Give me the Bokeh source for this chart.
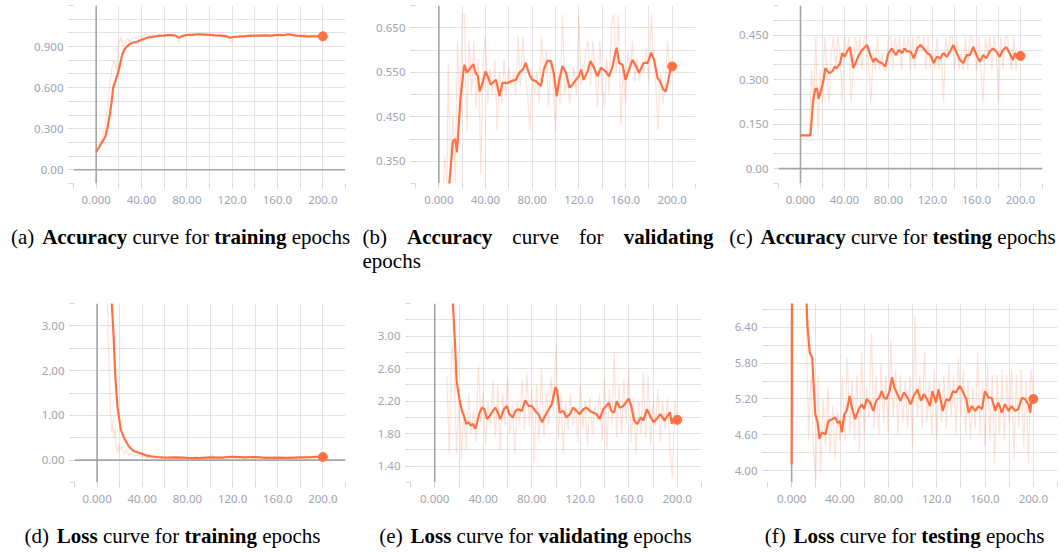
from bokeh.plotting import figure
from bokeh.models import FixedTicker, Span, Range1d
from bokeh.layouts import column, row
from bokeh.embed import file_html
from bokeh.resources import INLINE
from bokeh.core.properties import value

# ---------------- data ----------------
X_TICKS = [0, 40, 80, 120, 160, 200]
X_TICK_LABELS = ["0.000", "40.00", "80.00", "120.0", "160.0", "200.0"]
X_MINOR = [-20, 20, 60, 100, 140, 180, 220]

# (a) training accuracy
train_acc_x = [0, 3, 5, 8, 10, 12, 14, 15, 17, 19, 21, 23, 25, 27, 30, 33, 36, 40, 45, 50,
               55, 60, 65, 70, 73, 76, 80, 85, 90, 95, 100, 105, 110, 115, 118, 121, 125, 130, 135, 140,
               145, 150, 155, 160, 165, 170, 173, 176, 180, 185, 190, 195, 200]
train_acc_smooth = [0.13, 0.17, 0.20, 0.24, 0.31, 0.40, 0.52, 0.60, 0.65, 0.70, 0.77, 0.84, 0.88, 0.90, 0.92, 0.93, 0.935, 0.95, 0.965, 0.972,
                    0.978, 0.98, 0.985, 0.98, 0.965, 0.975, 0.985, 0.985, 0.99, 0.988, 0.985, 0.982, 0.98, 0.975, 0.965, 0.97, 0.972, 0.975, 0.978, 0.98,
                    0.98, 0.982, 0.98, 0.985, 0.983, 0.99, 0.985, 0.98, 0.978, 0.975, 0.975, 0.975, 0.975]
train_acc_raw_x = [0, 2, 4, 6, 8, 10, 12, 14, 16, 18, 20, 22, 24, 26, 28, 30, 32, 35, 38, 41,
                   44, 47, 50, 53, 56, 59, 62, 65, 68, 71, 73, 75, 78, 81, 84, 87, 90, 93, 96, 99,
                   102, 105, 108, 111, 114, 117, 119, 121, 124, 127, 130, 133, 136, 139, 142, 145, 148, 151, 154, 157,
                   160, 163, 166, 169, 172, 175, 178, 181, 184, 187, 190, 193, 196, 198, 200]
train_acc_raw = [0.13, 0.18, 0.22, 0.25, 0.33, 0.45, 0.62, 0.75, 0.80, 0.72, 0.93, 0.97, 0.90, 0.95, 0.96, 0.93, 0.97, 0.96, 0.98, 0.97,
                 0.99, 0.98, 0.99, 0.97, 0.99, 0.98, 0.995, 0.98, 0.99, 0.97, 0.93, 0.985, 0.99, 0.98, 0.995, 0.99, 0.995, 0.985, 0.99, 0.98,
                 0.995, 0.975, 0.985, 0.98, 0.99, 0.97, 0.93, 0.98, 0.975, 0.985, 0.97, 0.98, 0.99, 0.985, 0.97, 0.99, 0.98, 0.985, 0.975, 0.99,
                 0.98, 0.99, 0.985, 0.995, 0.98, 0.99, 0.975, 0.98, 0.99, 0.97, 0.98, 0.985, 0.97, 0.98, 0.975]
a_y_ticks = [0.0, 0.3, 0.6, 0.9]
a_y_labels = ["0.00", "0.300", "0.600", "0.900"]
a_y_minor = [-0.1, 0.1, 0.2, 0.4, 0.5, 0.7, 0.8, 1.0, 1.1, 1.2]

# (b) validation accuracy
val_acc_x = [0, 4, 7, 9, 12, 14, 15.5, 17, 18.5, 21, 22, 24, 26, 29.5, 31.5, 33.5, 35, 37.5, 40, 42.5,
             44.5, 49, 52, 54.5, 59, 62, 66, 69, 72, 74.5, 77.5, 80, 83, 87.5, 90, 93, 96, 98.5, 101, 103,
             106, 109, 112, 114.5, 117.5, 120, 122, 124, 127.5, 130, 133, 136, 139, 143, 146, 149, 151.5, 152.5, 154.5, 157.5,
             160, 163, 166, 169, 171.5, 175.5, 179, 182, 184.5, 187.5, 189.5, 192.5, 194.5, 196.5, 199, 200]
val_acc_smooth = [0.10, 0.18, 0.25, 0.30, 0.395, 0.40, 0.37, 0.43, 0.49, 0.549, 0.567, 0.549, 0.556, 0.568, 0.549, 0.541, 0.507, 0.526, 0.552, 0.537,
                  0.522, 0.533, 0.496, 0.526, 0.526, 0.53, 0.533, 0.549, 0.556, 0.571, 0.545, 0.533, 0.53, 0.519, 0.556, 0.576, 0.575, 0.549, 0.496, 0.53,
                  0.564, 0.549, 0.515, 0.522, 0.533, 0.541, 0.556, 0.533, 0.552, 0.575, 0.56, 0.541, 0.56, 0.552, 0.541, 0.564, 0.597, 0.605, 0.571, 0.567,
                  0.533, 0.556, 0.578, 0.564, 0.549, 0.571, 0.571, 0.594, 0.578, 0.537, 0.53, 0.511, 0.507, 0.53, 0.564, 0.563]
val_acc_raw_x = [2, 5, 7, 8, 10, 12, 14, 16, 18, 20, 22, 24, 26, 28, 30, 32, 34, 36, 38, 40,
                 42, 44, 46, 48, 50, 52, 54, 56, 58, 60, 62, 64, 66, 68, 70, 72, 74, 76, 78, 80,
                 82, 84, 86, 88, 90, 92, 94, 96, 98, 100, 102, 104, 106, 108, 110, 112, 114, 116, 118, 120,
                 122, 124, 126, 128, 130, 132, 134, 136, 138, 140, 142, 144, 146, 148, 150, 152, 154, 156, 158, 160,
                 162, 164, 166, 168, 170, 172, 174, 176, 178, 180, 182, 184, 186, 188, 190, 192, 194, 196, 198, 200]
val_acc_raw = [0.20, 0.36, 0.30, 0.57, 0.33, 0.45, 0.30, 0.62, 0.45, 0.68, 0.68, 0.42, 0.62, 0.50, 0.62, 0.47, 0.58, 0.32, 0.58, 0.63,
               0.48, 0.56, 0.50, 0.58, 0.42, 0.55, 0.48, 0.58, 0.50, 0.56, 0.52, 0.55, 0.50, 0.63, 0.52, 0.63, 0.55, 0.50, 0.42, 0.55,
               0.50, 0.55, 0.48, 0.63, 0.55, 0.60, 0.47, 0.58, 0.52, 0.42, 0.55, 0.48, 0.68, 0.50, 0.55, 0.48, 0.52, 0.56, 0.50, 0.68,
               0.52, 0.55, 0.60, 0.62, 0.52, 0.62, 0.55, 0.47, 0.62, 0.52, 0.47, 0.58, 0.50, 0.66, 0.68, 0.55, 0.68, 0.43, 0.56, 0.48,
               0.60, 0.55, 0.62, 0.53, 0.58, 0.53, 0.57, 0.55, 0.60, 0.53, 0.68, 0.58, 0.52, 0.42, 0.55, 0.48, 0.52, 0.62, 0.55, 0.57]
b_y_ticks = [0.35, 0.45, 0.55, 0.65]
b_y_labels = ["0.350", "0.450", "0.550", "0.650"]
b_y_minor = [0.3, 0.4, 0.5, 0.6, 0.7]

# (c) testing accuracy
test_acc_x = [0, 9, 11.5, 13.5, 15, 16.5, 19, 21, 22.5, 26, 29, 31, 33, 36, 38, 40, 42.5, 45, 48, 50,
              53, 56, 60.5, 63.5, 66, 68, 71, 74, 77, 80, 83, 86.5, 89.5, 92.5, 94.5, 97, 100, 103, 106, 109,
              112, 115, 118, 121, 124, 127, 130, 133, 136, 139, 142, 145, 148, 151, 154, 157, 160, 163, 166, 169,
              172, 175, 178, 181, 184, 187, 190, 193, 195, 197, 199, 200]
test_acc_smooth = [0.112, 0.112, 0.23, 0.269, 0.27, 0.235, 0.269, 0.30, 0.339, 0.322, 0.328, 0.344, 0.339, 0.356, 0.39, 0.377, 0.395, 0.41, 0.339, 0.356,
                   0.383, 0.40, 0.417, 0.383, 0.36, 0.372, 0.36, 0.356, 0.344, 0.39, 0.405, 0.383, 0.40, 0.39, 0.405, 0.395, 0.395, 0.372, 0.405, 0.417,
                   0.405, 0.39, 0.383, 0.356, 0.377, 0.372, 0.39, 0.377, 0.395, 0.417, 0.39, 0.366, 0.356, 0.383, 0.383, 0.41, 0.383, 0.36, 0.383, 0.372,
                   0.395, 0.405, 0.395, 0.377, 0.40, 0.41, 0.39, 0.366, 0.39, 0.372, 0.377, 0.38]
test_acc_raw_x = [0, 2, 4, 6, 8, 10, 12, 14, 16, 18, 20, 22, 24, 26, 28, 30, 32, 34, 36, 38,
                  40, 42, 44, 46, 48, 50, 52, 54, 56, 58, 60, 62, 64, 66, 68, 70, 72, 74, 76, 78,
                  80, 82, 84, 86, 88, 90, 92, 94, 96, 98, 100, 102, 104, 106, 108, 110, 112, 114, 116, 118,
                  120, 122, 124, 126, 128, 130, 132, 134, 136, 138, 140, 142, 144, 146, 148, 150, 152, 154, 156, 158,
                  160, 162, 164, 166, 168, 170, 172, 174, 176, 178, 180, 182, 184, 186, 188, 190, 192, 194, 196, 198, 200]
test_acc_raw = [0.111, 0.111, 0.111, 0.111, 0.111, 0.333, 0.222, 0.444, 0.111, 0.333, 0.222, 0.444, 0.333, 0.222, 0.389, 0.444, 0.333, 0.444, 0.389, 0.222,
                0.444, 0.389, 0.444, 0.222, 0.333, 0.444, 0.389, 0.444, 0.333, 0.444, 0.444, 0.333, 0.222, 0.389, 0.333, 0.444, 0.333, 0.389, 0.333, 0.333,
                0.444, 0.444, 0.333, 0.444, 0.389, 0.444, 0.333, 0.444, 0.389, 0.444, 0.333, 0.444, 0.333, 0.444, 0.444, 0.389, 0.444, 0.333, 0.444, 0.333,
                0.389, 0.333, 0.444, 0.333, 0.389, 0.222, 0.444, 0.389, 0.444, 0.444, 0.333, 0.444, 0.333, 0.389, 0.333, 0.444, 0.333, 0.444, 0.444, 0.389,
                0.333, 0.444, 0.333, 0.222, 0.444, 0.389, 0.444, 0.333, 0.444, 0.389, 0.222, 0.444, 0.333, 0.444, 0.444, 0.389, 0.333, 0.444, 0.333, 0.389, 0.389]
c_y_ticks = [0.0, 0.15, 0.3, 0.45]
c_y_labels = ["0.00", "0.150", "0.300", "0.450"]
c_y_minor = [-0.05, 0.05, 0.1, 0.2, 0.25, 0.35, 0.4, 0.5, 0.55]

# (d) training loss
train_loss_x = [0, 3, 6, 9, 11, 13, 14.5, 16, 18, 21, 24, 28, 32, 36, 40, 44, 48, 53, 58, 62,
                70, 80, 90, 100, 110, 120, 130, 140, 150, 160, 170, 180, 190, 195, 200]
train_loss_smooth = [9.0, 7.5, 6.0, 4.8, 4.1, 3.5, 2.84, 1.94, 1.2, 0.68, 0.49, 0.31, 0.21, 0.17, 0.14, 0.10, 0.085, 0.07, 0.06, 0.055,
                     0.06, 0.05, 0.045, 0.06, 0.055, 0.075, 0.06, 0.07, 0.05, 0.055, 0.05, 0.06, 0.065, 0.075, 0.07]
train_loss_raw_x = [0, 3, 6, 9, 10, 11, 12, 13, 14, 15, 16, 17, 18, 19, 20, 22, 24, 26, 28, 30,
                    33, 36, 39, 42, 45, 48, 51, 54, 57, 60, 63, 66, 69, 72, 75, 78, 81, 84, 87, 90,
                    93, 96, 99, 102, 105, 108, 111, 114, 117, 120, 123, 126, 129, 132, 135, 138, 141, 144, 147, 150,
                    153, 156, 159, 162, 165, 168, 171, 174, 177, 180, 183, 186, 189, 192, 195, 198, 200]
train_loss_raw = [8.0, 6.0, 4.5, 3.9, 2.6, 1.8, 1.1, 0.6, 0.9, 0.5, 0.7, 0.3, 0.15, 0.35, 0.2, 0.3, 0.12, 0.25, 0.1, 0.15,
                  0.08, 0.12, 0.06, 0.1, 0.04, 0.08, 0.05, 0.1, 0.03, 0.07, 0.04, 0.1, 0.05, 0.03, 0.08, 0.04, 0.06, 0.03, 0.09, 0.04,
                  0.07, 0.03, 0.05, 0.12, 0.04, 0.06, 0.03, 0.08, 0.05, 0.1, 0.04, 0.07, 0.05, 0.03, 0.09, 0.05, 0.04, 0.08, 0.03, 0.06,
                  0.05, 0.04, 0.07, 0.03, 0.06, 0.05, 0.08, 0.04, 0.06, 0.05, 0.03, 0.07, 0.05, 0.1, 0.06, 0.09, 0.07]
d_y_ticks = [0.0, 1.0, 2.0, 3.0]
d_y_labels = ["0.00", "1.00", "2.00", "3.00"]
d_y_minor = [-0.5, 0.5, 1.5, 2.5, 3.5]

# (e) validation loss
val_loss_x = [0, 5, 10, 13, 15, 17, 18, 20.5, 22.5, 24.5, 26, 28, 29.5, 31.5, 33.5, 35, 37, 39, 41, 43,
              45.5, 48, 50, 52, 54, 57, 59.5, 61.5, 64.5, 66.5, 69, 72, 74.5, 77.5, 80, 83, 85.5, 88.5, 91, 94,
              96.5, 99.5, 101, 103, 106, 108.5, 111.5, 114, 117, 119.5, 122.5, 125, 128, 130.5, 133.5, 136, 139, 141.5, 143.5, 145.5,
              148, 150, 152.5, 155.5, 158.5, 160, 162, 164.5, 167, 170, 172, 175, 177.5, 180.5, 183, 186, 188, 189.5, 192, 194,
              195.5, 197.5, 199.5, 200]
val_loss_smooth = [9.0, 7.0, 5.0, 4.0, 3.4, 2.82, 2.45, 2.21, 2.08, 2.0, 1.92, 1.94, 1.90, 1.92, 1.86, 1.94, 2.06, 2.12, 2.10, 1.98,
                   2.02, 2.08, 2.12, 2.06, 1.98, 2.10, 2.14, 2.04, 2.0, 2.08, 2.10, 2.08, 2.21, 2.14, 2.14, 2.08, 2.04, 1.94, 2.02, 2.10,
                   2.16, 2.37, 2.33, 2.06, 2.08, 2.0, 2.04, 2.12, 2.08, 2.04, 2.10, 2.12, 2.08, 2.06, 2.04, 1.98, 2.10, 2.14, 2.18, 2.08,
                   2.06, 2.20, 2.12, 2.14, 2.20, 2.23, 2.14, 1.96, 1.92, 2.0, 1.96, 2.10, 2.02, 1.94, 1.98, 2.04, 2.0, 1.96, 2.02, 2.06,
                   1.92, 2.0, 1.96, 1.97]
val_loss_raw_x = [10, 12, 14, 16, 18, 20, 22, 24, 26, 28, 30, 32, 34, 36, 38, 40, 42, 44, 46, 48,
                  50, 52, 54, 56, 58, 60, 62, 64, 66, 68, 70, 72, 74, 76, 78, 80, 82, 84, 86, 88,
                  90, 92, 94, 96, 98, 100, 102, 104, 106, 108, 110, 112, 114, 116, 118, 120, 122, 124, 126, 128,
                  130, 132, 134, 136, 138, 140, 142, 144, 146, 148, 150, 152, 154, 156, 158, 160, 162, 164, 166, 168,
                  170, 172, 174, 176, 178, 180, 182, 184, 186, 188, 190, 192, 194, 196, 198, 200]
val_loss_raw = [2.5, 1.55, 2.9, 2.6, 1.55, 2.3, 1.5, 2.1, 1.6, 2.3, 1.8, 2.1, 1.7, 2.65, 1.95, 2.3, 1.65, 2.2, 1.9, 2.45,
                1.75, 2.4, 1.6, 2.3, 1.9, 2.5, 1.8, 2.15, 1.55, 2.2, 1.9, 2.45, 1.85, 2.55, 1.9, 2.35, 1.45, 2.4, 1.7, 2.6,
                1.75, 2.3, 1.9, 2.5, 2.05, 2.9, 1.75, 2.3, 1.55, 2.2, 1.85, 2.3, 1.9, 2.15, 1.7, 2.4, 1.85, 2.2, 1.65, 2.25,
                1.8, 2.15, 1.95, 2.3, 1.7, 2.5, 1.6, 2.35, 1.9, 2.8, 1.75, 2.4, 1.8, 2.45, 1.95, 2.6, 1.7, 2.25, 1.55, 2.2,
                1.8, 2.55, 1.75, 2.5, 1.65, 2.2, 1.9, 2.35, 1.7, 2.2, 1.85, 2.25, 1.6, 1.25, 2.2, 1.95]
e_y_ticks = [1.4, 1.8, 2.2, 2.6, 3.0]
e_y_labels = ["1.40", "1.80", "2.20", "2.60", "3.00"]
e_y_minor = [1.2, 1.6, 2.0, 2.4, 2.8, 3.2, 3.4]

# (f) testing loss
test_loss_x = [0, 1, 5, 10, 12, 13, 15, 17, 18, 19.5, 21.5, 23, 25, 28, 30.5, 33.5, 36, 38, 40, 41.5,
               43.5, 45.5, 48, 50, 52.5, 55.5, 58, 60, 62, 65, 67.5, 70, 72.5, 74.5, 76.5, 78.5, 81, 83, 85, 87.5,
               90, 93, 96, 98.5, 101, 104, 107, 109.5, 112, 114.5, 116.5, 119.5, 121.5, 123.5, 125, 128, 130.5, 133.5, 136, 139,
               141.5, 144.5, 146.5, 149, 152, 154.5, 157.5, 160, 163, 165.5, 168.5, 171, 174, 176.5, 179.5, 182, 185, 187.5, 190.5, 193,
               196, 197.5, 198.5, 200]
test_loss_smooth = [4.1, 14.0, 12.0, 8.5, 7.0, 6.44, 5.97, 5.89, 5.5, 4.95, 4.8, 4.53, 4.64, 4.61, 4.83, 4.86, 4.89, 4.8, 4.83, 4.64,
                    4.94, 5.0, 5.25, 5.05, 4.86, 5.03, 5.11, 5.03, 5.2, 5.14, 5.0, 5.17, 5.22, 5.33, 5.22, 5.2, 5.33, 5.56, 5.39, 5.28,
                    5.17, 5.31, 5.22, 5.11, 5.25, 5.36, 5.17, 5.28, 5.2, 5.08, 5.33, 5.14, 5.36, 5.17, 5.0, 5.2, 5.17, 5.33, 5.31, 5.42,
                    5.33, 5.2, 4.97, 5.08, 5.0, 5.08, 5.03, 5.33, 5.22, 5.22, 5.0, 5.14, 4.97, 5.11, 5.0, 5.08, 5.0, 5.03, 5.22, 5.2,
                    5.11, 4.97, 5.22, 5.2]
test_loss_raw_x = [12, 14, 16, 18, 20, 22, 24, 26, 28, 30, 32, 34, 36, 38, 40, 42, 44, 46, 48, 50,
                   52, 54, 56, 58, 60, 62, 64, 66, 68, 70, 72, 74, 76, 78, 80, 82, 84, 86, 88, 90,
                   92, 94, 96, 98, 100, 102, 104, 106, 108, 110, 112, 114, 116, 118, 120, 122, 124, 126, 128, 130,
                   132, 134, 136, 138, 140, 142, 144, 146, 148, 150, 152, 154, 156, 158, 160, 162, 164, 166, 168, 170,
                   172, 174, 176, 178, 180, 182, 184, 186, 188, 190, 192, 194, 196, 198, 200]
test_loss_raw = [6.7, 4.5, 5.6, 4.4, 3.85, 5.6, 3.95, 5.2, 4.4, 5.4, 4.3, 5.1, 4.2, 5.0, 4.5, 5.6, 4.5, 5.9, 4.6, 5.5,
                 4.5, 5.6, 4.3, 6.0, 4.6, 5.4, 4.9, 6.3, 4.7, 5.6, 4.6, 5.8, 4.8, 5.6, 4.6, 6.2, 4.9, 5.7, 4.6, 5.6,
                 4.8, 5.5, 4.7, 5.6, 4.4, 6.6, 4.9, 5.6, 4.7, 6.0, 4.8, 5.5, 4.6, 5.7, 4.5, 5.5, 4.8, 5.6, 4.7, 5.8,
                 4.9, 5.6, 4.6, 5.9, 4.9, 5.7, 4.6, 5.5, 4.5, 5.4, 4.7, 6.0, 4.6, 5.5, 4.4, 5.8, 4.5, 5.6, 4.1, 5.6,
                 4.6, 5.7, 4.5, 5.6, 4.8, 5.7, 4.2, 5.6, 4.7, 5.7, 4.4, 5.5, 4.1, 5.7, 5.3]
f_y_ticks = [4.0, 4.6, 5.2, 5.8, 6.4]
f_y_labels = ["4.00", "4.60", "5.20", "5.80", "6.40"]
f_y_minor = [4.3, 4.9, 5.5, 6.1, 6.7]

# captions (word, bold)
cap_a = [("(a)", False), ("Accuracy", True), ("curve", False), ("for", False), ("training", True), ("epochs", False)]
cap_b = [("(b)", False), ("Accuracy", True), ("curve", False), ("for", False), ("validating", True)]
cap_b2 = [("epochs", False)]
cap_c = [("(c)", False), ("Accuracy", True), ("curve", False), ("for", False), ("testing", True), ("epochs", False)]
cap_d = [("(d)", False), ("Loss", True), ("curve", False), ("for", False), ("training", True), ("epochs", False)]
cap_e = [("(e)", False), ("Loss", True), ("curve", False), ("for", False), ("validating", True), ("epochs", False)]
cap_f = [("(f)", False), ("Loss", True), ("curve", False), ("for", False), ("testing", True), ("epochs", False)]

# ---------------- style ----------------
LINE = "#ff7043"
GRID = "#e3e3e3"
AXIS0 = "#a5a5a5"
TICKTXT = "#a0a4b0"
TICKFONT = "Noto Sans"
CAPFONT = "Liberation Serif"
FS = 21
TOTAL_W = 1062
BASE_SHIFT = 8   # glyph baseline correction

REG = {'(': 333, ')': 333, 'a': 444, 'b': 500, 'c': 444, 'd': 500, 'e': 444, 'f': 333, 'h': 500,
       'o': 500, 'p': 500, 'r': 333, 's': 389, 'u': 500, 'v': 500, ' ': 250}
BOLD = {'A': 722, 'L': 667, 'a': 500, 'c': 444, 'd': 556, 'e': 444, 'g': 500, 'i': 278, 'l': 278,
        'n': 556, 'o': 500, 'r': 444, 's': 389, 't': 333, 'u': 556, 'v': 500, 'y': 500}


def tw(s, bold):
    tab = BOLD if bold else REG
    return sum(tab.get(ch, 500) for ch in s) * FS / 1000.0


SP = 250 * FS / 1000.0


def centered(words, center, base):
    gaps = [SP * 1.5] + [SP] * (len(words) - 2)
    total = sum(tw(w, b) for w, b in words) + sum(gaps)
    x = center - total / 2
    out = []
    for i, (w, b) in enumerate(words):
        out.append((x, base, w, b))
        x += tw(w, b) + (gaps[i] if i < len(gaps) else 0)
    return out


def justified(words, x0, x1, base):
    nat = sum(tw(w, b) for w, b in words)
    gap = (x1 - x0 - nat) / (len(words) - 1)
    out = []
    x = x0
    for w, b in words:
        out.append((x, base, w, b))
        x += tw(w, b) + gap
    return out


def panel(fig_w, left, frame_w, top, frame_h, bottom, yr, yt, yl, ym, sx, sy, rx, ry, zero_h):
    p = figure(width=fig_w, height=top + frame_h + bottom, x_range=(-20, 220), y_range=yr,
               output_backend="svg", toolbar_location=None,
               min_border_left=left, min_border_right=fig_w - left - frame_w,
               min_border_top=top, min_border_bottom=bottom)
    p.outline_line_color = None
    p.background_fill_color = "white"
    p.border_fill_color = "white"
    for ax, t, lab, mn in ((p.xaxis[0], X_TICKS, X_TICK_LABELS, X_MINOR), (p.yaxis[0], yt, yl, ym)):
        ax.ticker = FixedTicker(ticks=t, minor_ticks=mn)
        ax.major_label_overrides = {tv: lv for tv, lv in zip(t, lab)}
        ax.axis_line_color = None
        ax.major_tick_line_color = "#d6d6d6"
        ax.minor_tick_line_color = "#d6d6d6"
        ax.major_tick_in = 0
        ax.minor_tick_in = 0
        ax.major_tick_out = 5
        ax.minor_tick_out = 5
        ax.major_label_text_font = TICKFONT
        ax.major_label_text_font_size = "11.5px"
        ax.major_label_text_color = TICKTXT
    p.xaxis.major_label_standoff = 7
    p.yaxis.major_label_standoff = 5
    p.xgrid.ticker = FixedTicker(ticks=X_TICKS, minor_ticks=X_MINOR)
    p.ygrid.ticker = FixedTicker(ticks=yt, minor_ticks=ym)
    for g in (p.xgrid, p.ygrid):
        g.grid_line_color = GRID
        g.minor_grid_line_color = GRID
        g.grid_line_width = 1
    p.add_layout(Span(location=0, dimension="height", line_color=AXIS0, line_width=1.6, level="underlay"))
    if zero_h:
        p.add_layout(Span(location=0, dimension="width", line_color=AXIS0, line_width=1.6, level="underlay"))
    p.line(rx, ry, line_color=LINE, line_alpha=0.2, line_width=1.2)
    p.line(sx, sy, line_color=LINE, line_width=2.2)
    p.scatter([sx[-1]], [sy[-1]], size=9, color=LINE)
    return p


def caption_strip(y0, y1, items):
    c = figure(width=TOTAL_W, height=y1 - y0, x_range=Range1d(0, TOTAL_W), y_range=Range1d(y1, y0),
               output_backend="svg", toolbar_location=None, x_axis_type=None, y_axis_type=None,
               min_border=0, min_border_left=0, min_border_right=0, min_border_top=0, min_border_bottom=0)
    c.outline_line_color = None
    c.grid.visible = False
    for bold in (False, True):
        sel = [it for it in items if it[3] == bold]
        c.text(x=[it[0] for it in sel], y=[it[1] - BASE_SHIFT for it in sel], text=[it[2] for it in sel],
               text_font=value(CAPFONT), text_font_size=value(f"{FS}px"),
               text_font_style=value("bold" if bold else "normal"), text_color="black",
               text_baseline="alphabetic", text_align="left")
    return c


# row 1: y 0..220, captions 220..286; row 2: 286..510, captions 510..551
R1_TOP, R1_H, R1_B = 5, 178, 37
R2_TOP, R2_H, R2_B = 17, 179, 28
CAP1, CAP1b, CAP2 = 244, 268, 543
PAGE_H = 551

pa = panel(356, 73, 272, R1_TOP, R1_H, R1_B, (-0.1, 1.2), a_y_ticks, a_y_labels, a_y_minor,
           train_acc_x, train_acc_smooth, train_acc_raw_x, train_acc_raw, True)
pb = panel(354, 59, 280, R1_TOP, R1_H, R1_B, (0.3, 0.7), b_y_ticks, b_y_labels, b_y_minor,
           val_acc_x, val_acc_smooth, val_acc_raw_x, val_acc_raw, False)
pc = panel(352, 68, 264, R1_TOP, R1_H, R1_B, (-0.05, 0.55), c_y_ticks, c_y_labels, c_y_minor,
           test_acc_x, test_acc_smooth, test_acc_raw_x, test_acc_raw, True)
pd_ = panel(358, 74, 271, R2_TOP, R2_H, R2_B, (-0.5, 3.5), d_y_ticks, d_y_labels, d_y_minor,
            train_loss_x, train_loss_smooth, train_loss_raw_x, train_loss_raw, True)
pe = panel(354, 52, 291, R2_TOP, R2_H, R2_B, (1.2, 3.4), e_y_ticks, e_y_labels, e_y_minor,
           val_loss_x, val_loss_smooth, val_loss_raw_x, val_loss_raw, False)
pf = panel(350, 55, 290, R2_TOP, R2_H, R2_B, (3.8, 6.8), f_y_ticks, f_y_labels, f_y_minor,
           test_loss_x, test_loss_smooth, test_loss_raw_x, test_loss_raw, False)

r1_bottom = R1_TOP + R1_H + R1_B
r2_top = 286
cap1_items = (centered(cap_a, 180, CAP1) + justified(cap_b, 362, 713, CAP1) +
              [(362, CAP1b, w, b) for w, b in cap_b2] + centered(cap_c, 892, CAP1))
cap2_y0 = r2_top + R2_TOP + R2_H + R2_B
cap2_items = centered(cap_d, 172, CAP2) + centered(cap_e, 535, CAP2) + centered(cap_f, 904, CAP2)

strip1 = caption_strip(r1_bottom, r2_top, cap1_items)
strip2 = caption_strip(cap2_y0, PAGE_H, cap2_items)

layout = column(row(pa, pb, pc), strip1, row(pd_, pe, pf), strip2)
open("out.html", "w").write(file_html(layout, INLINE))
